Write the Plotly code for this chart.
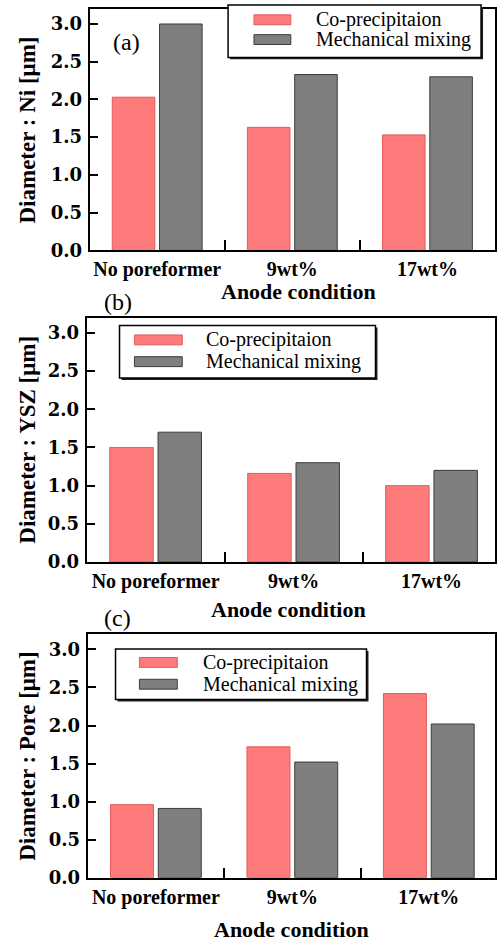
import plotly.graph_objects as go

# Anode conditions and measured mean diameters (um)
conditions = ["No poreformer", "9wt%", "17wt%"]
series_names = ["Co-precipitaion", "Mechanical mixing"]

ni_coprecip = [2.03, 1.63, 1.53]
ni_mechanical = [3.00, 2.33, 2.30]

ysz_coprecip = [1.50, 1.16, 1.00]
ysz_mechanical = [1.70, 1.30, 1.20]

pore_coprecip = [0.96, 1.72, 2.42]
pore_mechanical = [0.91, 1.52, 2.02]

y_ticks = [0.0, 0.5, 1.0, 1.5, 2.0, 2.5, 3.0]
panel_tags = ["(a)", "(b)", "(c)"]
y_titles = ["Diameter : Ni [\u03bcm]", "Diameter : YSZ [\u03bcm]", "Diameter : Pore [\u03bcm]"]
x_title = "Anode condition"

W, H = 497, 949
RED = "#ff7b7b"
RED_EDGE = "#e35a5a"
GREY = "#7f7f7f"
GREY_EDGE = "#3c3c3c"
SERIF = "Liberation Serif"


def px_x(v):
    return v / W


def px_y(v):
    return 1 - v / H


# panel geometry in pixels: left, top, bottom, x-range end
panels = [
    dict(left=90, top=9, bottom=253, xend=2.5),
    dict(left=87, top=321, bottom=568, xend=2.46),
    dict(left=88, top=641, bottom=887, xend=2.485),
]
data_sets = [
    (ni_coprecip, ni_mechanical),
    (ysz_coprecip, ysz_mechanical),
    (pore_coprecip, pore_mechanical),
]
# legend box: left, right, top, bottom, swatch x0, x1, text x, row centres
legend_boxes = [
    dict(l=229, r=483, t=5, b=58, sx0=255, sx1=292, tx=315, rows=(20, 40)),
    dict(l=120, r=377, t=329, b=382, sx0=135, sx1=183, tx=205, rows=(343.5, 365.5)),
    dict(l=116, r=368, t=656, b=707, sx0=140, sx1=178, tx=202, rows=(669.5, 691.5)),
]
tag_pos = [(127, 42), (118, 305), (118, 625)]
xtitle_pos = [(300, 295), (290, 616), (293, 939)]

fig = go.Figure()
annotations = []
shapes = []

for i, (geo, (co, mech)) in enumerate(zip(panels, data_sets)):
    n = "" if i == 0 else str(i + 1)
    xa, ya = "x" + n, "y" + n
    fig.add_trace(go.Bar(
        x=conditions, y=co, name=series_names[0], xaxis=xa, yaxis=ya,
        marker=dict(color=RED, line=dict(color=RED_EDGE, width=1)),
        showlegend=False,
    ))
    fig.add_trace(go.Bar(
        x=conditions, y=mech, name=series_names[1], xaxis=xa, yaxis=ya,
        marker=dict(color=GREY, line=dict(color=GREY_EDGE, width=1)),
        showlegend=False,
    ))

    axis_common = dict(
        showline=True, linecolor="black", linewidth=2, mirror=True,
        showgrid=False, zeroline=False, ticks="inside", tickcolor="black",
        tickwidth=1.5,
    )
    fig.update_layout({
        "xaxis" + n: dict(
            axis_common, domain=[px_x(geo["left"]), 1.0],
            anchor=ya, type="category", range=[-0.5, geo["xend"]],
            tickson="boundaries", ticklen=10, tickangle=0,
            tickfont=dict(family=SERIF, size=20, color="black", weight="bold"),
        ),
        "yaxis" + n: dict(
            axis_common, domain=[px_y(geo["bottom"]), px_y(geo["top"])],
            anchor=xa, range=[0, 3.2], tickvals=y_ticks, tickformat=".1f",
            ticklen=8, ticklabelstandoff=2,
            tickfont=dict(family="DejaVu Serif", size=18, color="black", weight="bold"),
        ),
    })

    # boxed legend with a drop shadow
    lb = legend_boxes[i]
    shapes.append(dict(
        type="rect", xref="paper", yref="paper", layer="above",
        x0=px_x(lb["l"] + 2), x1=px_x(lb["r"] + 2),
        y0=px_y(lb["b"] + 2), y1=px_y(lb["t"] + 2),
        fillcolor="#222222", line=dict(width=0),
    ))
    shapes.append(dict(
        type="rect", xref="paper", yref="paper", layer="above",
        x0=px_x(lb["l"]), x1=px_x(lb["r"]),
        y0=px_y(lb["b"]), y1=px_y(lb["t"]),
        fillcolor="white", line=dict(color="black", width=1.5),
    ))
    for name, col, edge, yc in zip(series_names, [RED, GREY], [RED_EDGE, GREY_EDGE], lb["rows"]):
        shapes.append(dict(
            type="rect", xref="paper", yref="paper", layer="above",
            x0=px_x(lb["sx0"]), x1=px_x(lb["sx1"]),
            y0=px_y(yc + 5), y1=px_y(yc - 5),
            fillcolor=col, line=dict(color=edge, width=1),
        ))
        annotations.append(dict(
            text=name, x=px_x(lb["tx"]), y=px_y(yc),
            xref="paper", yref="paper", showarrow=False,
            xanchor="left", yanchor="middle",
            font=dict(family=SERIF, size=20, color="black"),
        ))

    annotations.append(dict(
        text=panel_tags[i], x=px_x(tag_pos[i][0]), y=px_y(tag_pos[i][1]),
        xref="paper", yref="paper", showarrow=False,
        xanchor="center", yanchor="middle",
        font=dict(family=SERIF, size=24, color="black"),
    ))
    annotations.append(dict(
        text=x_title, x=px_x(xtitle_pos[i][0]), y=px_y(xtitle_pos[i][1]),
        xref="paper", yref="paper", showarrow=False,
        xanchor="center", yanchor="middle",
        font=dict(family=SERIF, size=22, color="black", weight="bold"),
    ))
    annotations.append(dict(
        text=y_titles[i], x=px_x(28), y=px_y((geo["top"] + geo["bottom"]) / 2),
        xref="paper", yref="paper", showarrow=False, textangle=-90,
        xanchor="center", yanchor="middle",
        font=dict(family=SERIF, size=23, color="black", weight="bold"),
    ))

fig.update_layout(
    width=W, height=H,
    margin=dict(l=0, r=0, t=0, b=0),
    paper_bgcolor="white", plot_bgcolor="white",
    barmode="group", bargap=0.3, bargroupgap=0.1,
    annotations=annotations, shapes=shapes,
    showlegend=False,
)

fig.write_html("out.html")
